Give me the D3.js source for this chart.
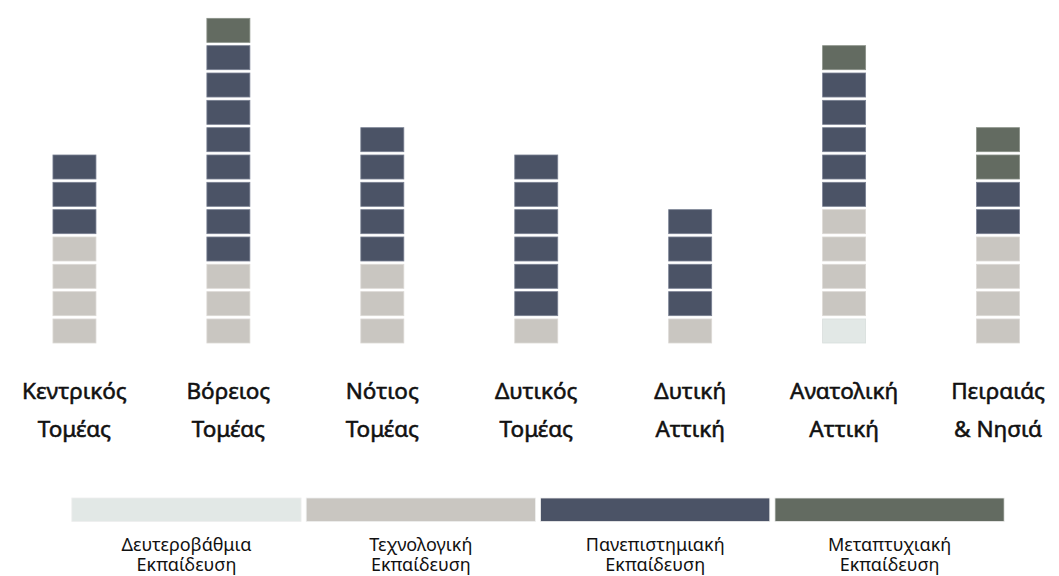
<!DOCTYPE html>
<html>
<head>
<meta charset="utf-8">
<script src="https://cdn.jsdelivr.net/npm/d3@7"></script>
<style>
  html, body { margin: 0; padding: 0; background: #ffffff; }
  svg { display: block; }
  text { font-family: "Noto Sans", "Open Sans", sans-serif; fill: #111; }
</style>
</head>
<body>
<svg id="chart" width="1059" height="576"></svg>
<script>
// Regions (two-line labels)
const regions = ["Κεντρικός Τομέας", "Βόρειος Τομέας", "Νότιος Τομέας", "Δυτικός Τομέας", "Δυτική Αττική", "Ανατολική Αττική", "Πειραιάς & Νησιά"];
const regionLines = [["Κεντρικός", "Τομέας"], ["Βόρειος", "Τομέας"], ["Νότιος", "Τομέας"], ["Δυτικός", "Τομέας"], ["Δυτική", "Αττική"], ["Ανατολική", "Αττική"], ["Πειραιάς", "& Νησιά"]];

// Education levels (stack order bottom -> top)
const levels = ["Δευτεροβάθμια Εκπαίδευση", "Τεχνολογική Εκπαίδευση", "Πανεπιστημιακή Εκπαίδευση", "Μεταπτυχιακή Εκπαίδευση"];
const levelLines = [["Δευτεροβάθμια", "Εκπαίδευση"], ["Τεχνολογική", "Εκπαίδευση"], ["Πανεπιστημιακή", "Εκπαίδευση"], ["Μεταπτυχιακή", "Εκπαίδευση"]];
const levelColors = ["#e2e8e6", "#c9c6c1", "#4b5366", "#636b61"];

// Unit counts per region for each level
const secondary     = [0, 0, 0, 0, 0, 1, 0];
const technological = [4, 3, 3, 1, 1, 4, 4];
const university    = [3, 8, 5, 6, 4, 5, 2];
const postgraduate  = [0, 1, 0, 0, 0, 1, 2];
const seriesValues = [secondary, technological, university, postgraduate];

const svg = d3.select("#chart");

// Build unit blocks
const blocks = [];
regions.forEach((r, ri) => {
  let k = 0;
  seriesValues.forEach((vals, li) => {
    for (let j = 0; j < vals[ri]; j++) {
      blocks.push({ region: r, level: li, index: k });
      k++;
    }
  });
});

const x = d3.scaleBand().domain(regions).range([0, 1072.5]).paddingInner(0.7206).paddingOuter(0.344);
const y = d3.scaleLinear().domain([0, 12]).range([343, 343 - 12 * 27.33]);
const gap = 3.3;

const strokeColors = ["#d8dedc", "#dcd9d5", "#7a8193", "#8a9188"];

svg.append("g").selectAll("rect")
  .data(blocks)
  .join("rect")
  .attr("x", d => x(d.region))
  .attr("y", d => y(d.index + 1) + gap)
  .attr("width", x.bandwidth())
  .attr("height", d => y(d.index) - y(d.index + 1) - gap)
  .attr("fill", d => levelColors[d.level])
  .attr("stroke", d => strokeColors[d.level])
  .attr("stroke-width", 0.8);

// Region labels
const lab = svg.append("g").selectAll("text")
  .data(regions)
  .join("text")
  .attr("text-anchor", "middle")
  .attr("font-size", 22.5)
  .attr("stroke", "#111")
  .attr("stroke-width", 0.55)
  .attr("x", d => x(d) + x.bandwidth() / 2)
  .attr("y", 399);
lab.each(function(d, i) {
  const t = d3.select(this);
  regionLines[i].forEach((line, li) => {
    t.append("tspan").attr("x", x(d) + x.bandwidth() / 2).attr("dy", li === 0 ? 0 : 38).text(line);
  });
});

// Legend
const lx = d3.scaleBand().domain(levels).range([69.5, 1006.5]).paddingInner(0.022).paddingOuter(0.01);
const leg = svg.append("g");
leg.selectAll("rect")
  .data(levels)
  .join("rect")
  .attr("x", d => lx(d))
  .attr("y", 498)
  .attr("width", lx.bandwidth())
  .attr("height", 23.5)
  .attr("fill", (d, i) => levelColors[i])
  .attr("stroke", "#eeeeee")
  .attr("stroke-width", 0.8);

leg.selectAll("text")
  .data(levels)
  .join("text")
  .attr("text-anchor", "middle")
  .attr("font-size", 18)
  .attr("fill", "#222")
  .attr("x", d => lx(d) + lx.bandwidth() / 2)
  .attr("y", 551)
  .each(function(d, i) {
    const t = d3.select(this);
    levelLines[i].forEach((line, li) => {
      t.append("tspan").attr("x", lx(d) + lx.bandwidth() / 2).attr("dy", li === 0 ? 0 : 20).text(line);
    });
  });
</script>
</body>
</html>
